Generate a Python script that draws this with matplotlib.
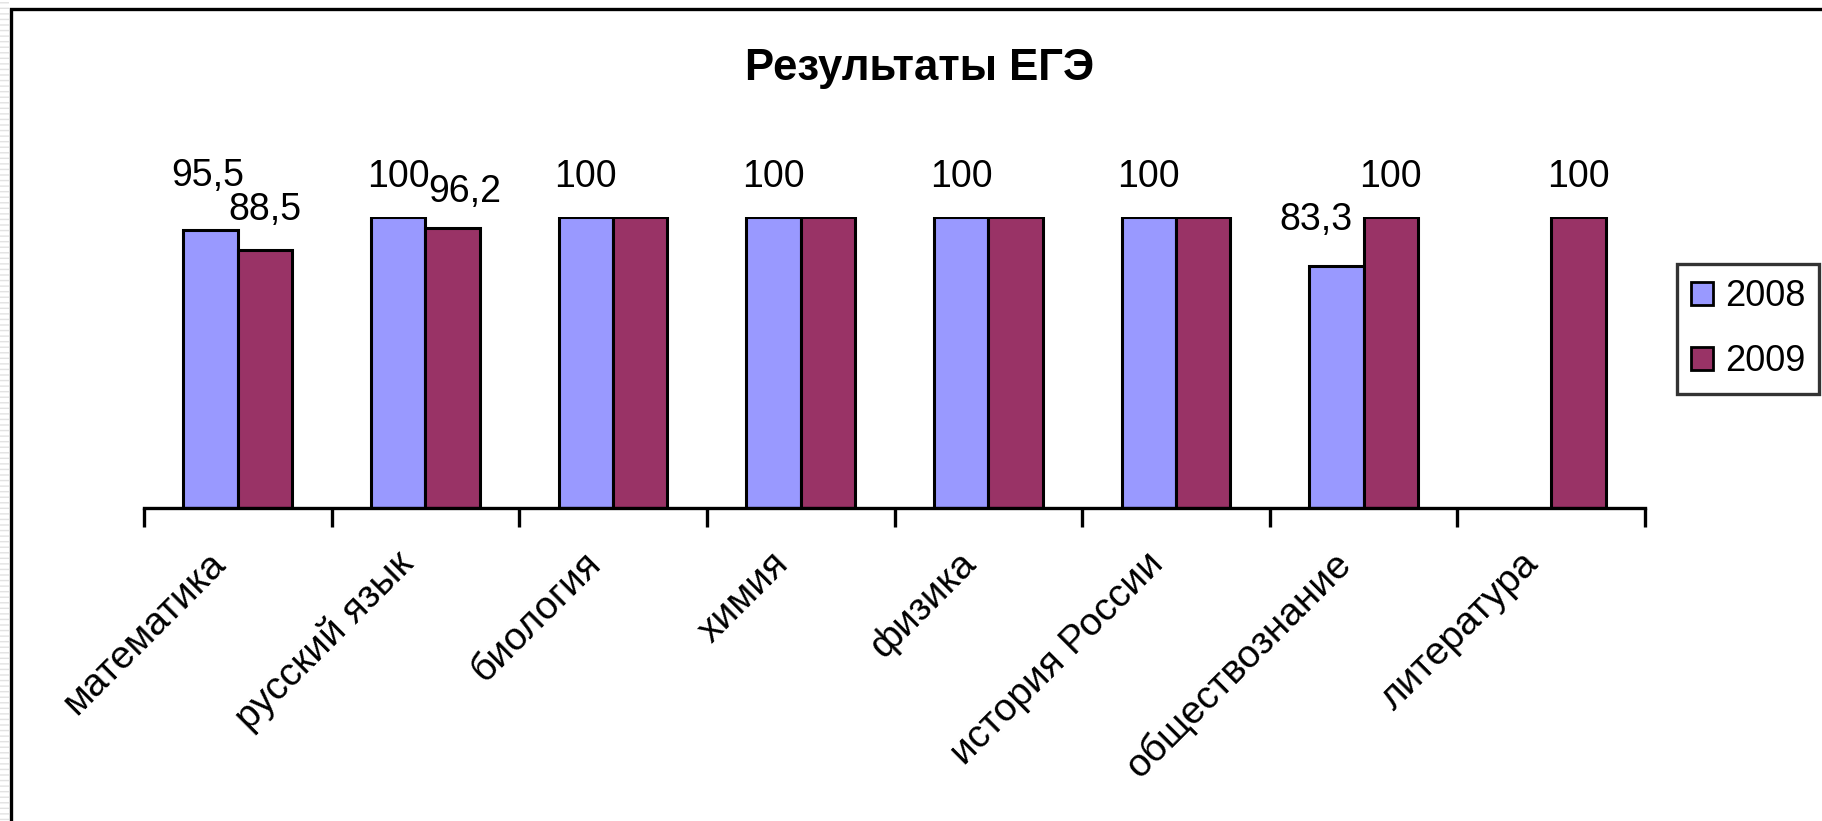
import numpy as np
import matplotlib
matplotlib.use('Agg')
from matplotlib import pyplot as plt
from matplotlib.patches import Rectangle, Patch
from matplotlib.transforms import ScaledTranslation

plt.rcParams['font.family'] = ['Liberation Sans', 'DejaVu Sans']

subjects = ['математика', 'русский язык', 'биология', 'химия', 'физика',
            'история России', 'обществознание', 'литература']
years = ['2008', '2009']
res_2008 = [95.5, 100, 100, 100, 100, 100, 83.3, np.nan]
res_2009 = [88.5, 96.2, 100, 100, 100, 100, 100, 100]
title = 'Результаты ЕГЭ'

color_2008 = '#9999FF'
color_2009 = '#993366'

W, H = 1822, 821
fig = plt.figure(figsize=(W / 100, H / 100), dpi=100)

# frame round the chart (only left and top visible in the original)
fig.patches.append(Rectangle((11 / W, -0.05), 1.1, 1 - 9 / H + 0.05, transform=fig.transFigure,
                             fill=False, edgecolor='black', linewidth=2.4))
fig.patches.append(Rectangle((0, 0), 9 / W, 1, transform=fig.transFigure,
                             facecolor='white', edgecolor='#e2e2e2', hatch='---', linewidth=0))

ax = fig.add_axes([144 / W, 1 - 508 / H, 1501 / W, 291 / H])

n = len(subjects)
x = np.arange(n) + 0.5
bw = 0.29
ax.bar(x - bw / 2, res_2008, bw, color=color_2008, edgecolor='black', linewidth=2.2, label=years[0])
ax.bar(x + bw / 2, res_2009, bw, color=color_2009, edgecolor='black', linewidth=2.2, label=years[1])

ax.set_xlim(0, n)
ax.set_ylim(0, 100)

for s in ['left', 'right', 'top']:
    ax.spines[s].set_visible(False)
ax.spines['bottom'].set_linewidth(2.4)
ax.set_yticks([])

ax.set_xticks(np.arange(n + 1), minor=True)
ax.tick_params(axis='x', which='minor', length=14, width=2.4, direction='out')
ax.set_xticks(x)
ax.set_xticklabels(subjects, rotation=45, ha='right', va='top', fontsize=28)
ax.tick_params(axis='x', which='major', length=0, pad=27)
shift = ScaledTranslation(-5 / 100, 0, fig.dpi_scale_trans)
for lab in ax.get_xticklabels():
    lab.set_transform(lab.get_transform() + shift)

# hand-moved labels in the original, in pixels (dx, dy)
nudge = {(0, 0): (-3, 14), (1, 1): (12, -4), (6, 0): (-20, 6)}


def fmt(v):
    return ('%g' % v).replace('.', ',')


for j, vals in enumerate([res_2008, res_2009]):
    for i, v in enumerate(vals):
        if np.isnan(v):
            continue
        # where both years show the same value only one label is left
        if j == 1 and v == res_2008[i]:
            continue
        xc = x[i] + (bw / 2 if j else -bw / 2)
        dx, dy = nudge.get((i, j), (0, 0))
        ax.annotate(fmt(v), (xc, v), xytext=(dx, 30 + dy), textcoords='offset pixels',
                    ha='center', va='baseline', fontsize=27, annotation_clip=False)

fig.text(920 / W, 1 - 80 / H, title, ha='center', va='baseline', fontsize=31.5, fontweight='bold')

handles = [Patch(facecolor=color_2008, edgecolor='black', linewidth=2),
           Patch(facecolor=color_2009, edgecolor='black', linewidth=2)]
leg = fig.legend(handles, years, loc='center left', bbox_to_anchor=(1677 / W, 1 - 329 / H),
                 fontsize=26, frameon=True, fancybox=False, edgecolor='black',
                 handlelength=0.6, handleheight=0.6, handletextpad=0.32,
                 labelspacing=0.84, borderpad=0.4, borderaxespad=0)
leg.get_frame().set_linewidth(2.4)

fig.savefig('out.png', dpi=100, facecolor='white')
